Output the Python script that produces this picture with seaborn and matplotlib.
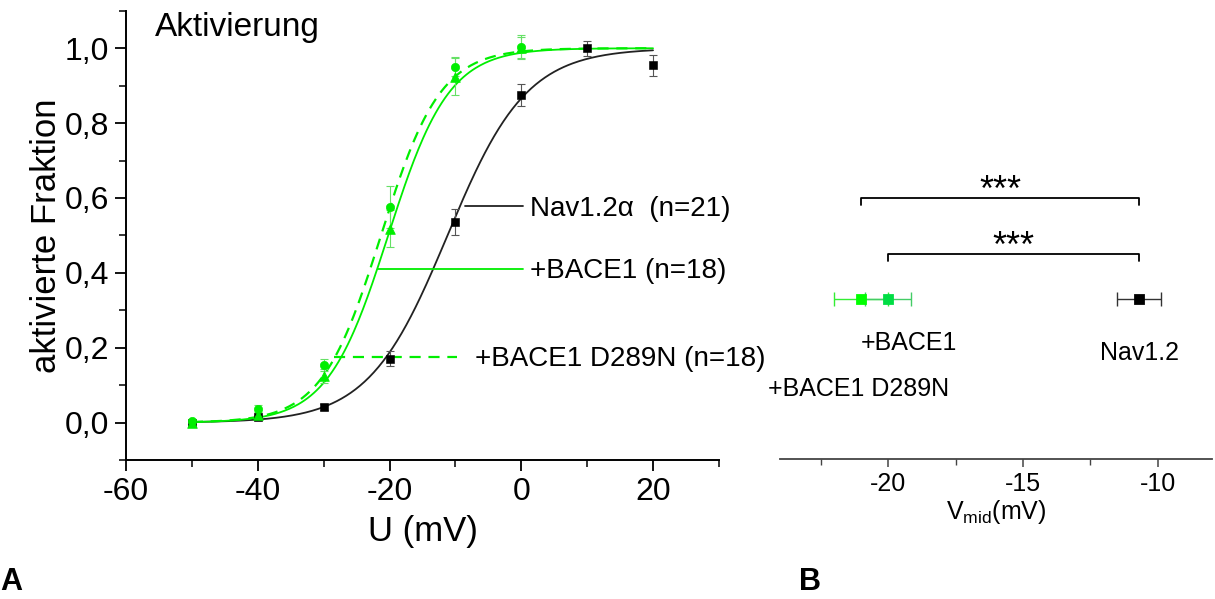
import numpy as np
import seaborn as sns
import matplotlib
import matplotlib.pyplot as plt
from matplotlib.ticker import FuncFormatter, MultipleLocator

matplotlib.use('Agg')

# --- data ---
voltage = [-50, -40, -30, -20, -10, 0, 10, 20]
nav_mean = [0.0, 0.015, 0.042, 0.17, 0.536, 0.875, 1.0, 0.954]
nav_err = [0.005, 0.006, 0.008, 0.02, 0.034, 0.03, 0.02, 0.028]

voltage_g = [-50, -40, -30, -20, -10, 0]
bace_mean = [0.0, 0.02, 0.125, 0.518, 0.924, 1.0]
bace_err = [0.005, 0.008, 0.018, 0.05, 0.05, 0.03]
d289n_mean = [0.003, 0.036, 0.154, 0.576, 0.951, 1.004]
d289n_err = [0.005, 0.01, 0.016, 0.055, 0.025, 0.03]

# Boltzmann fit parameters (V1/2, slope k)
fit_nav = (-11.2, 6.0)
fit_bace = (-20.2, 4.6)
fit_d289n = (-21.3, 4.5)

vmid_names = ['+BACE1 D289N', '+BACE1', 'Nav1.2']
vmid_mean = [-21.0, -20.0, -10.7]
vmid_sem = [1.0, 0.85, 0.83]

sns.set_style('ticks')
plt.rcParams['font.family'] = ['Liberation Sans', 'DejaVu Sans']
plt.rcParams['mathtext.fontset'] = 'custom'
plt.rcParams['mathtext.rm'] = 'Liberation Sans'
plt.rcParams['axes.unicode_minus'] = False
plt.rcParams['text.color'] = 'black'
plt.rcParams['axes.labelcolor'] = 'black'
plt.rcParams['xtick.color'] = 'black'
plt.rcParams['ytick.color'] = 'black'
plt.rcParams['axes.edgecolor'] = 'black'

green = '#00ee00'
green_err = '#66e066'

fig = plt.figure(figsize=(12.15, 5.99), dpi=100)
axA = fig.add_axes([0.1037, 0.232, 0.488, 0.750])
axB = fig.add_axes([0.642, 0.2337, 0.3555, 0.4992])


def boltzmann(v, vh, k):
    return 1.0 / (1.0 + np.exp((vh - v) / k))


v_fit = np.linspace(-50, 20, 300)
sns.lineplot(x=v_fit, y=boltzmann(v_fit, *fit_nav), ax=axA, color='#222222', lw=1.3)
sns.lineplot(x=v_fit, y=boltzmann(v_fit, *fit_bace), ax=axA, color=green, lw=1.3)
axA.plot(v_fit, boltzmann(v_fit, *fit_d289n), color=green, lw=1.6, ls=(0, (5, 3.5)))

axA.errorbar(voltage, nav_mean, yerr=nav_err, fmt='none', ecolor='#555555',
             elinewidth=0.8, capsize=3, capthick=0.8)
axA.errorbar(voltage_g, bace_mean, yerr=bace_err, fmt='none', ecolor=green_err,
             elinewidth=0.8, capsize=3, capthick=0.8)
axA.errorbar(voltage_g, d289n_mean, yerr=d289n_err, fmt='none', ecolor=green_err,
             elinewidth=0.8, capsize=3, capthick=0.8)
sns.scatterplot(x=voltage, y=nav_mean, ax=axA, marker='s', s=28, color='black',
                edgecolor='black', zorder=4)
sns.scatterplot(x=voltage_g, y=d289n_mean, ax=axA, marker='o', s=36, color=green,
                edgecolor=green, zorder=5)
sns.scatterplot(x=voltage_g, y=bace_mean, ax=axA, marker='^', s=48, color=green,
                edgecolor=green, zorder=5)

axA.set_xlim(-60, 30)
axA.set_ylim(-0.1, 1.1)
axA.xaxis.set_major_locator(MultipleLocator(20))
axA.xaxis.set_minor_locator(MultipleLocator(10))
axA.yaxis.set_major_locator(MultipleLocator(0.2))
axA.yaxis.set_minor_locator(MultipleLocator(0.1))
axA.yaxis.set_major_formatter(FuncFormatter(lambda v, p: ('%.1f' % v).replace('.', ',')))
axA.tick_params(which='major', length=8, width=1.3, labelsize=23, pad=4)
axA.tick_params(which='minor', length=5, width=1.1)
sns.despine(ax=axA)
for s in ['left', 'bottom']:
    axA.spines[s].set_linewidth(1.4)
axA.set_xlabel('U (mV)', fontsize=25, labelpad=6)
axA.set_ylabel('aktivierte Fraktion', fontsize=25, labelpad=1)

axA.text(-55.6, 1.056, 'Aktivierung', fontsize=24, va='center', ha='left')
# in-plot legend
axA.plot([-8.6, 0.3], [0.578, 0.578], color='#222222', lw=1.3)
axA.text(1.4, 0.57, 'Nav1.2α  (n=21)', fontsize=20, va='center', ha='left', clip_on=False)
axA.plot([-21.7, 0.3], [0.411, 0.411], color=green, lw=1.3)
axA.text(1.4, 0.405, '+BACE1 (n=18)', fontsize=20, va='center', ha='left', clip_on=False)
axA.plot([-28.5, -9.7], [0.174, 0.174], color=green, lw=1.6, ls=(0, (5, 3.5)))
axA.text(-7.0, 0.17, '+BACE1 D289N (n=18)', fontsize=20, va='center', ha='left', clip_on=False)

# --- panel B ---
point_y = 5.34
b_colors = ['#00ff00', '#00dd44', 'black']
b_err_colors = ['#33ee33', '#44cc66', '#333333']
for m, e, c, ec in zip(vmid_mean, vmid_sem, b_colors, b_err_colors):
    axB.errorbar([m], [point_y], xerr=[e], fmt='none', ecolor=ec, elinewidth=1.0,
                 capsize=5, capthick=1.0)
sns.scatterplot(x=vmid_mean, y=[point_y] * 3, hue=vmid_names, palette=b_colors,
                marker='s', s=50, edgecolor=None, legend=False, ax=axB, zorder=5)

for x0, yb in [(vmid_mean[0], 8.72), (vmid_mean[1], 6.85)]:
    axB.plot([x0, x0, vmid_mean[2], vmid_mean[2]], [yb - 0.22, yb, yb, yb - 0.22],
             color='black', lw=1.3)
    axB.text((x0 + vmid_mean[2]) / 2, yb - 0.35, '***', fontsize=26, ha='center', va='bottom')

axB.text(vmid_mean[0], 3.88, vmid_names[1], fontsize=18, ha='left', va='center')
axB.text(vmid_mean[2], 3.56, vmid_names[2], fontsize=18, ha='center', va='center')
axB.text(-24.43, 2.34, vmid_names[0], fontsize=18, ha='left', va='center', clip_on=False)

axB.set_xlim(-24, -8)
axB.set_ylim(0, 10)
axB.xaxis.set_major_locator(MultipleLocator(5))
axB.xaxis.set_minor_locator(MultipleLocator(2.5))
axB.tick_params(which='major', length=6, width=1.1, labelsize=18, pad=3, color='#444444')
axB.tick_params(which='minor', length=4, width=1.0, color='#444444')
axB.set_yticks([])
sns.despine(ax=axB, left=True)
axB.spines['bottom'].set_color('#444444')
axB.spines['bottom'].set_linewidth(1.3)
axB.set_xlabel(r'$\mathrm{V_{mid}}$(mV)', fontsize=18, labelpad=2)

fig.text(0.0, 2 / 599, 'A', fontsize=22, fontweight='bold', va='bottom', ha='left')
fig.text(799 / 1215, 2 / 599, 'B', fontsize=22, fontweight='bold', va='bottom', ha='left')

plt.savefig('out.png', dpi=100)
plt.close()
